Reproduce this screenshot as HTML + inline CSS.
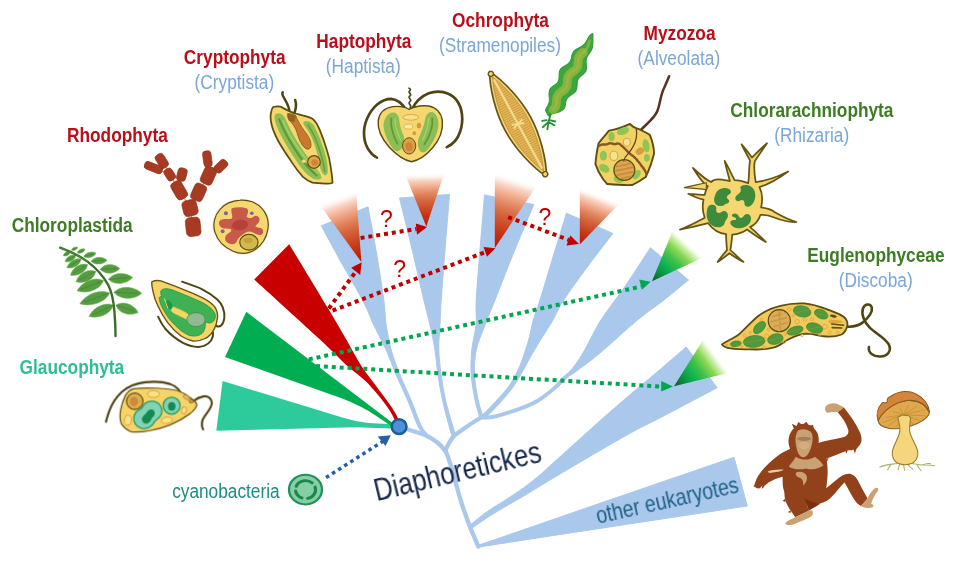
<!DOCTYPE html>
<html lang="en">
<head>
<meta charset="utf-8">
<title>Diaphoretickes – plastid origins</title>
<style>
html,body{margin:0;padding:0;background:#fff;}
body{width:960px;height:574px;overflow:hidden;}
svg{display:block;}
text{font-family:"Liberation Sans",sans-serif;}
.b{font-weight:bold;}
</style>
</head>
<body>
<svg width="960" height="574" viewBox="0 0 960 574">
<defs>
  <linearGradient id="gr1" gradientUnits="userSpaceOnUse" x1="337" y1="196.8" x2="361.4" y2="262">
    <stop offset="0" stop-color="#ffffff" stop-opacity="0"/><stop offset="0.13" stop-color="#fad7c8" stop-opacity="1"/><stop offset="0.26" stop-color="#f0aa8c"/><stop offset="0.4" stop-color="#e1825a"/><stop offset="0.53" stop-color="#d4643c"/><stop offset="0.66" stop-color="#cd4b28"/><stop offset="0.79" stop-color="#c83214"/><stop offset="1" stop-color="#c01400"/>
  </linearGradient>
  <linearGradient id="gr2" gradientUnits="userSpaceOnUse" x1="424.8" y1="173.2" x2="426.3" y2="226.5">
    <stop offset="0" stop-color="#ffffff" stop-opacity="0"/><stop offset="0.13" stop-color="#fad7c8" stop-opacity="1"/><stop offset="0.26" stop-color="#f0aa8c"/><stop offset="0.4" stop-color="#e1825a"/><stop offset="0.53" stop-color="#d4643c"/><stop offset="0.66" stop-color="#cd4b28"/><stop offset="0.79" stop-color="#c83214"/><stop offset="1" stop-color="#c01400"/>
  </linearGradient>
  <linearGradient id="gr3" gradientUnits="userSpaceOnUse" x1="516" y1="177.8" x2="494.8" y2="248">
    <stop offset="0" stop-color="#ffffff" stop-opacity="0"/><stop offset="0.13" stop-color="#fad7c8" stop-opacity="1"/><stop offset="0.26" stop-color="#f0aa8c"/><stop offset="0.4" stop-color="#e1825a"/><stop offset="0.53" stop-color="#d4643c"/><stop offset="0.66" stop-color="#cd4b28"/><stop offset="0.79" stop-color="#c83214"/><stop offset="1" stop-color="#c01400"/>
  </linearGradient>
  <linearGradient id="gr4" gradientUnits="userSpaceOnUse" x1="599.4" y1="194.5" x2="579.8" y2="244.5">
    <stop offset="0" stop-color="#ffffff" stop-opacity="0"/><stop offset="0.13" stop-color="#fad7c8" stop-opacity="1"/><stop offset="0.26" stop-color="#f0aa8c"/><stop offset="0.4" stop-color="#e1825a"/><stop offset="0.53" stop-color="#d4643c"/><stop offset="0.66" stop-color="#cd4b28"/><stop offset="0.79" stop-color="#c83214"/><stop offset="1" stop-color="#c01400"/>
  </linearGradient>
  <linearGradient id="gg5" gradientUnits="userSpaceOnUse" x1="687" y1="243.5" x2="652" y2="281.3">
    <stop offset="0" stop-color="#c8efa0" stop-opacity="0"/><stop offset="0.1" stop-color="#b4e888" stop-opacity="0.7"/><stop offset="0.22" stop-color="#8fd855" stop-opacity="1"/><stop offset="0.42" stop-color="#3cc04a"/><stop offset="0.62" stop-color="#0cb050"/><stop offset="0.82" stop-color="#0a883e"/><stop offset="1" stop-color="#0b5626"/>
  </linearGradient>
  <linearGradient id="gg6" gradientUnits="userSpaceOnUse" x1="716" y1="356" x2="674" y2="386.3">
    <stop offset="0" stop-color="#c8efa0" stop-opacity="0"/><stop offset="0.1" stop-color="#b4e888" stop-opacity="0.7"/><stop offset="0.22" stop-color="#8fd855" stop-opacity="1"/><stop offset="0.42" stop-color="#3cc04a"/><stop offset="0.62" stop-color="#0cb050"/><stop offset="0.82" stop-color="#0a883e"/><stop offset="1" stop-color="#0b5626"/>
  </linearGradient>
</defs>
<!-- ===== tree ===== -->
<g id="tree" fill="#a9c8eb" stroke="#a9c8eb" stroke-width="1" stroke-linejoin="miter">
  <path d="M321.3,225.8 C324.6,231.8 334.1,249.6 341.0,262.0 C347.9,274.4 357.0,289.5 362.5,300.0 C368.0,310.5 369.8,316.7 373.8,325.0 C377.7,333.3 382.5,341.7 386.2,350.0 C390.0,358.3 392.7,366.7 396.2,375.0 C399.8,383.3 404.0,391.7 407.5,400.0 C411.0,408.3 414.9,419.4 417.5,425.0 C420.1,430.6 422.1,432.1 423.0,433.5 L427.0,433.5 C426.0,432.1 423.7,430.6 421.0,425.0 C418.3,419.4 414.5,408.3 411.0,400.0 C407.5,391.7 403.3,383.3 400.0,375.0 C396.7,366.7 393.5,358.3 391.2,350.0 C389.0,341.7 387.5,333.3 386.2,325.0 C385.0,316.7 385.4,312.0 383.8,300.0 C382.1,288.0 379.1,268.5 376.5,253.0 C373.9,237.5 369.4,214.5 368.0,206.8Z"/>
  <path d="M399.5,198.0 C401.6,206.5 408.0,232.0 412.0,249.0 C416.0,266.0 420.8,287.3 423.8,300.0 C426.8,312.7 428.1,316.7 430.0,325.0 C431.9,333.3 433.7,341.7 435.0,350.0 C436.3,358.3 436.8,366.7 438.0,375.0 C439.2,383.3 440.7,391.7 442.5,400.0 C444.3,408.3 447.2,419.0 448.8,425.0 C450.3,431.0 451.5,434.2 452.0,436.0 L455.5,435.0 C455.0,433.3 454.2,430.8 452.5,425.0 C450.8,419.2 447.4,408.3 445.5,400.0 C443.6,391.7 442.4,383.3 441.2,375.0 C440.1,366.7 439.0,358.3 438.8,350.0 C438.5,341.7 439.6,333.3 440.0,325.0 C440.4,316.7 440.4,312.5 441.2,300.0 C442.1,287.5 443.6,267.6 445.0,250.0 C446.4,232.4 448.8,203.8 449.5,194.5Z"/>
  <path d="M484.5,195.0 C483.8,204.2 481.4,232.5 480.0,250.0 C478.6,267.5 476.9,287.5 476.2,300.0 C475.6,312.5 476.8,316.7 476.0,325.0 C475.2,333.3 472.5,341.7 471.8,350.0 C471.0,358.3 470.7,366.7 471.2,375.0 C471.8,383.3 473.7,393.3 475.0,400.0 C476.3,406.7 478.2,411.8 479.0,415.0 C479.8,418.2 479.8,418.3 480.0,419.0 L483.0,417.0 C482.9,416.7 483.3,417.8 482.5,415.0 C481.7,412.2 479.6,406.7 478.2,400.0 C476.9,393.3 474.8,383.3 474.5,375.0 C474.2,366.7 474.5,358.3 476.2,350.0 C478.0,341.7 481.9,333.3 485.0,325.0 C488.1,316.7 490.2,312.2 495.0,300.0 C499.8,287.8 507.5,267.9 514.0,252.0 C520.5,236.1 530.5,212.4 533.8,204.5Z"/>
  <path d="M566.4,213.3 C564.2,220.6 557.4,242.6 553.0,257.0 C548.6,271.4 543.3,289.5 540.0,300.0 C536.7,310.5 535.0,313.9 533.3,320.0 C531.5,326.1 531.0,331.1 529.5,336.7 C528.0,342.2 526.4,347.8 524.5,353.3 C522.6,358.9 520.7,364.4 518.0,370.0 C515.3,375.6 512.2,381.4 508.5,386.7 C504.8,391.9 499.4,397.2 495.5,401.5 C491.6,405.8 487.6,410.1 485.0,412.5 C482.4,414.9 480.8,415.6 480.0,416.2 L482.0,419.0 C483.0,418.4 485.0,418.0 488.0,415.3 C491.0,412.6 495.8,407.6 500.0,402.8 C504.2,398.0 509.4,392.2 513.3,386.7 C517.2,381.2 520.1,375.6 523.3,370.0 C526.5,364.4 529.3,358.9 532.5,353.3 C535.7,347.8 539.1,342.2 542.5,336.7 C545.9,331.1 549.5,326.1 553.0,320.0 C556.5,313.9 557.9,309.0 563.8,300.0 C569.6,291.0 579.8,277.1 588.0,266.0 C596.2,254.9 608.7,238.8 612.8,233.4Z"/>
  <path d="M650.4,247.7 C646.3,253.9 634.2,272.9 626.0,285.0 C617.8,297.1 608.2,308.7 601.0,320.0 C593.8,331.3 588.0,344.7 583.0,353.0 C578.0,361.3 574.5,365.8 571.0,370.0 C567.5,374.2 565.5,374.7 562.0,378.0 C558.5,381.3 555.3,385.8 550.0,390.0 C544.7,394.2 538.8,398.9 530.0,403.0 C521.2,407.1 505.2,412.3 497.0,414.5 C488.8,416.7 483.7,415.8 481.0,416.0 L481.0,419.0 C483.7,418.8 488.5,419.8 497.0,417.5 C505.5,415.2 522.5,410.0 532.0,405.5 C541.5,401.0 548.2,395.1 554.0,390.5 C559.8,385.9 563.0,381.4 567.0,378.0 C571.0,374.6 572.5,374.2 578.0,370.0 C583.5,365.8 590.1,361.3 600.0,353.0 C609.9,344.7 626.8,328.8 637.5,320.0 C648.2,311.2 655.5,306.7 664.0,300.0 C672.5,293.3 684.4,283.3 688.5,280.0Z"/>
  <path d="M686.2,347.0 C681.0,351.5 665.5,364.9 655.0,373.8 C644.5,382.7 632.5,392.6 623.3,400.4 C614.1,408.2 606.7,414.9 600.0,420.8 C593.3,426.7 588.8,430.8 583.3,435.8 C577.8,440.8 572.2,445.8 566.7,450.8 C561.2,455.8 554.5,461.8 550.0,465.8 C545.5,469.8 544.5,471.3 540.0,475.0 C535.5,478.7 528.8,484.0 523.3,488.0 C517.8,492.0 512.8,495.2 506.7,499.2 C500.6,503.2 492.3,508.0 486.7,511.9 C481.1,515.8 476.0,520.4 473.3,522.5 C470.6,524.6 471.0,524.4 470.5,524.8 L472.2,528.3 C472.7,527.9 472.0,528.1 475.0,526.0 C478.0,523.9 484.7,519.2 490.0,515.8 C495.3,512.4 500.9,509.2 506.7,505.8 C512.5,502.4 517.8,499.5 525.0,495.2 C532.2,490.9 543.0,484.2 550.0,480.0 C557.0,475.8 561.2,473.3 566.7,470.0 C572.2,466.7 577.8,463.6 583.3,460.3 C588.8,457.1 591.7,455.3 600.0,450.5 C608.3,445.7 623.0,437.1 633.3,431.5 C643.6,425.9 648.0,424.1 662.0,416.8 C676.0,409.5 708.0,392.6 717.2,387.7Z"/>
  <path d="M734.0,457.3 C711.7,465.0 640.7,489.3 600.0,503.3 C559.3,517.3 510.5,534.3 490.0,541.3 C469.5,548.3 479.2,544.8 477.0,545.5 L478.0,547.5 C480.0,547.1 469.7,548.5 490.0,545.3 C510.3,542.1 557.1,534.9 600.0,528.4 C642.9,521.9 722.8,509.7 747.3,506.0Z"/>
</g>
<g id="stems" fill="none" stroke="#a9c8eb" stroke-width="4.3" stroke-linecap="round" stroke-linejoin="round">
  <path d="M399,427 C410,430 418,432.5 425,435 C434,439 442,446 446,452 C450,460 453,474 457.7,490 C462,506 468,524 478.3,546.5"/>
  <path d="M481,417.5 C470,424 462,430 455,435 C451,439 448,444 445.7,450"/>
</g>

<!-- ===== primary plastid wedges ===== -->
<path d="M222.6,380.9 L342.3,417.6 Q356,421.9 368.4,423.1 L399,424.4 L399,428.8 L354.5,427.2 L216.3,430.8Z" fill="#2dcb9b"/>
<path d="M246.3,311.8 L391,421.7 L400,428 L397,430.6 L389.3,424.8 L377.1,416.4 Q361,405.8 342.3,398.6 L225,357Z" fill="#00ad50"/>
<path d="M289.2,244.2 C295.6,254.8 317.9,291.5 327.5,307.5 C337.1,323.5 341.0,330.2 346.6,340.0 C352.2,349.8 356.8,358.8 361.4,366.1 C366.0,373.4 369.0,376.3 374.3,383.6 C379.6,390.9 388.9,402.9 393.3,409.7 C397.7,416.5 399.4,422.0 400.6,424.5 L397.4,427.0 C396.0,424.1 394.1,416.9 389.2,409.7 C384.3,402.5 374.9,390.9 368.0,383.6 C361.1,376.3 355.4,373.4 347.5,366.1 C339.6,358.8 336.0,354.4 320.5,340.0 C305.0,325.6 265.3,289.6 254.2,279.5Z" fill="#c80000"/>

<!-- ===== secondary plastid gradient tips ===== -->
<polygon points="361.4,262 318,202.5 356,191" fill="url(#gr1)"/>
<polygon points="426.3,226.5 405,174 444.5,172.5" fill="url(#gr2)"/>
<polygon points="494.8,248 494.8,171 537.5,184.5" fill="url(#gr3)"/>
<polygon points="579.8,244.5 579.8,185 619,204" fill="url(#gr4)"/>
<polygon points="652,281.3 673,230 703,257.5" fill="url(#gg5)"/>
<polygon points="674,386.3 703,340 728,373" fill="url(#gg6)"/>

<!-- ===== dotted arrows ===== -->
<g fill="none" stroke="#c00000" stroke-width="4" stroke-dasharray="4 3.9">
  <path d="M328.8,308.5 L355.5,272"/>
  <path d="M360.6,238 L416.5,229"/>
  <path d="M332.6,310.6 L485,252.2"/>
  <path d="M508.2,217.1 L569,240"/>
</g>
<g fill="#c00000">
  <polygon points="361.6,262.6 351.2,267.8 360.2,275"/>
  <polygon points="427,227 415.8,223.4 417,234.8"/>
  <polygon points="495.3,248.2 483.6,247 487,256.8"/>
  <polygon points="579,244 570.4,235.6 566.4,245.6"/>
</g>
<g fill="none" stroke="#00a651" stroke-width="4" stroke-dasharray="4 3.9">
  <path d="M308.8,359.4 L641,286.6"/>
  <path d="M316,366 L662,386.6"/>
</g>
<g fill="#00a651">
  <polygon points="650.6,281.8 639.2,279.4 642,289.8"/>
  <polygon points="673,386.4 661.2,381 661.2,391.6"/>
</g>
<path d="M326,477.6 L382.5,441.6" fill="none" stroke="#285ea4" stroke-width="3.5" stroke-dasharray="3.6 3.6"/>
<polygon points="390.8,435.2 377.6,436.4 385.6,446" fill="#285ea4"/>
<circle cx="399.1" cy="426.6" r="7.4" fill="#4d90d6" stroke="#1d5c96" stroke-width="2.5"/>

<!-- cyanobacterium icon -->
<g transform="translate(305.5,489.6) scale(1,0.9)">
  <circle cx="0" cy="0" r="16.5" fill="#86cfa4" stroke="#22905a" stroke-width="2.3"/>
  <g fill="none" stroke="#1b874d" stroke-width="3.2" stroke-linecap="round">
    <path d="M-9.3,-3.6 A10,10 0 0 1 6.6,-7.5"/>
    <path d="M9.6,-2.8 A10,10 0 0 1 2.2,9.8"/>
    <path d="M-3.6,9.3 A10,10 0 0 1 -9.9,1.6"/>
  </g>
</g>

<!-- ===== labels ===== -->
<g opacity="0.999">
<g font-size="21" text-anchor="middle">
  <g class="b" fill="#b80f1a">
    <text transform="translate(234.7,63.8) scale(0.823,1)">Cryptophyta</text>
    <text transform="translate(363.8,47.5) scale(0.823,1)">Haptophyta</text>
    <text transform="translate(500.5,27.2) scale(0.823,1)">Ochrophyta</text>
    <text transform="translate(679.5,39.7) scale(0.823,1)">Myzozoa</text>
    <text transform="translate(117.4,142.2) scale(0.823,1)">Rhodophyta</text>
  </g>
  <g class="b" fill="#3c7d23">
    <text transform="translate(811.9,117.2) scale(0.823,1)">Chlorarachniophyta</text>
    <text transform="translate(875.9,262.2) scale(0.823,1)">Euglenophyceae</text>
    <text transform="translate(72.2,231.9) scale(0.823,1)">Chloroplastida</text>
  </g>
  <text class="b" fill="#2fbd95" transform="translate(71.9,374.4) scale(0.823,1)">Glaucophyta</text>
  <g fill="#7aa6d8">
    <text transform="translate(234.4,88.8) scale(0.823,1)">(Cryptista)</text>
    <text transform="translate(363.3,72.5) scale(0.823,1)">(Haptista)</text>
    <text transform="translate(500,51.6) scale(0.823,1)">(Stramenopiles)</text>
    <text transform="translate(678.9,64.7) scale(0.823,1)">(Alveolata)</text>
    <text transform="translate(811.7,141.6) scale(0.823,1)">(Rhizaria)</text>
    <text transform="translate(875.7,286.6) scale(0.823,1)">(Discoba)</text>
  </g>
  <text fill="#1e8c82" transform="translate(225.9,497.8) scale(0.823,1)">cyanobacteria</text>
</g>
<g font-size="23" fill="#c00000" text-anchor="middle">
  <text x="386.5" y="227">?</text>
  <text x="399.6" y="277.4">?</text>
  <text x="545" y="225.2">?</text>
</g>
<text font-size="31.5" fill="#14284b" transform="translate(376.8,501.2) rotate(-13.4) scale(0.82,1)">Diaphoretickes</text>
<text font-size="23.8" fill="#1f6088" transform="translate(598,523.9) rotate(-12.6) scale(0.82,1)">other eukaryotes</text>
</g>

<!-- ===== Rhodophyta: filament + cell ===== -->
<g transform="translate(130,140) scale(0.2092)">
  <g stroke="#d9903c" stroke-width="5" fill="none">
    <path d="M302,415 L287,325 L235,240 L190,165 L152,100 M190,165 L112,132 M235,240 L248,165 M287,325 L328,250 L375,170 L370,90 M375,170 L435,125"/>
  </g>
  <g fill="#a63a22" stroke="#8e2e16" stroke-width="3">
    <rect x="-35" y="-45" width="70" height="90" rx="20" transform="translate(302,415) rotate(-6)"/>
    <rect x="-35" y="-38" width="70" height="76" rx="20" transform="translate(287,325) rotate(-14)"/>
    <rect x="-28" y="-45" width="56" height="90" rx="18" transform="translate(235,240) rotate(-30)"/>
    <rect x="-21" y="-30" width="42" height="60" rx="15" transform="translate(190,165) rotate(-32)"/>
    <rect x="-22" y="-36" width="44" height="72" rx="16" transform="translate(152,100) rotate(-32)"/>
    <rect x="-45" y="-19" width="90" height="38" rx="16" transform="translate(112,132) rotate(22)"/>
    <rect x="-22" y="-31" width="44" height="62" rx="15" transform="translate(248,165) rotate(15)"/>
    <rect x="-30" y="-41" width="60" height="82" rx="19" transform="translate(328,250) rotate(24)"/>
    <rect x="-30" y="-43" width="60" height="86" rx="19" transform="translate(375,170) rotate(24)"/>
    <rect x="-20" y="-38" width="40" height="76" rx="15" transform="translate(370,90) rotate(-8)"/>
    <rect x="-21" y="-34" width="42" height="68" rx="15" transform="translate(435,125) rotate(46)"/>
  </g>
</g>
<g transform="translate(205,190) scale(0.1307)">
  <path d="M270,78 C330,72 395,95 435,140 C475,185 492,245 480,305 C470,365 435,420 385,455 C335,488 270,492 215,468 C150,440 95,385 75,320 C58,262 72,195 115,148 C152,105 210,82 270,78Z" fill="#fcebd9" stroke="#fcebd9" stroke-width="22"/>
  <path d="M270,78 C330,72 395,95 435,140 C475,185 492,245 480,305 C470,365 435,420 385,455 C335,488 270,492 215,468 C150,440 95,385 75,320 C58,262 72,195 115,148 C152,105 210,82 270,78Z" fill="#f5d870" stroke="#5c4d12" stroke-width="9"/>
  <path d="M205,140 C240,128 290,130 322,142 C338,160 325,185 318,205 C335,222 360,215 375,200 C395,188 420,205 418,232 C412,255 392,262 385,280 C400,292 425,285 440,300 C452,320 440,345 418,345 C390,342 370,322 345,318 C322,318 300,330 285,345 C262,358 248,380 240,400 C225,420 190,418 168,400 C148,382 150,352 170,338 C190,325 205,318 200,300 C178,292 150,300 128,288 C102,272 100,240 122,228 C150,215 185,228 205,218 C218,200 192,165 205,140Z" fill="#c85a4b"/>
  <ellipse cx="268" cy="268" rx="62" ry="40" fill="#b8403a" transform="rotate(-8 268 268)"/>
  <circle cx="160" cy="178" r="15" fill="#7e60a8"/><circle cx="358" cy="178" r="14" fill="#7e60a8"/><circle cx="135" cy="315" r="15" fill="#7e60a8"/>
  <ellipse cx="336" cy="400" rx="70" ry="60" fill="#d2ba4a" stroke="#5c4d12" stroke-width="9"/>
  <ellipse cx="330" cy="385" rx="35" ry="20" fill="#c8a03c"/>
</g>

<!-- ===== Cryptophyta cell ===== -->
<g transform="translate(255,85) scale(0.1915)">
  <g fill="none" stroke="#4f4416" stroke-width="13" stroke-linecap="round">
    <path d="M182,160 C185,120 165,90 150,65 C142,52 140,45 145,38"/>
    <path d="M200,160 C215,130 218,105 210,78"/>
  </g>
  <path d="M95,115 C120,108 140,112 150,122 C175,135 195,145 215,150 C245,158 275,165 300,176 C318,190 328,210 337,232 C352,268 365,305 376,342 C386,372 392,402 396,432 C400,460 404,486 405,510 C395,516 382,516 370,515 C345,514 322,513 300,510 C280,503 264,492 250,480 C228,455 208,428 190,400 C165,364 141,328 120,290 C105,262 92,232 85,200 C80,175 80,155 85,138 C87,128 90,120 95,115Z" fill="#f6d66e" stroke="#5c4d12" stroke-width="9" stroke-linejoin="round"/>
  <!-- left chloroplast -->
  <path d="M110,150 C125,142 145,150 155,170 C175,215 200,265 230,310 C262,360 300,410 335,455 C345,470 350,482 345,490 C335,497 315,494 298,485 C270,470 245,440 222,405 C190,358 160,310 135,262 C118,228 105,195 102,172 C101,162 104,154 110,150Z" fill="#8bbf55"/>
  <path d="M125,175 C150,240 190,310 235,375 C265,418 295,450 325,475" fill="none" stroke="#62963a" stroke-width="11"/>
  <path d="M145,185 C170,245 210,310 250,365 C275,400 300,430 330,460" fill="none" stroke="#a6d568" stroke-width="6"/>
  <!-- right chloroplast -->
  <path d="M258,190 C275,183 298,195 310,215 C330,255 348,300 362,345 C374,385 382,425 380,455 C378,470 368,475 358,468 C345,455 340,430 335,405 C328,362 315,320 298,280 C285,250 268,225 255,208 C250,200 252,193 258,190Z" fill="#8bbf55"/>
  <path d="M275,205 C305,250 330,310 345,365 C355,400 362,430 365,455" fill="none" stroke="#6a9f3c" stroke-width="8"/>
  <!-- gullet -->
  <path d="M172,150 C185,150 200,152 212,160 C225,190 240,215 258,240 C278,265 295,290 292,318 C290,335 275,340 262,330 C240,312 228,280 220,250 C212,222 195,200 180,185 C170,172 168,160 172,150Z" fill="#c9792f" stroke="#7a5a18" stroke-width="4"/>
  <path d="M168,145 L215,160 L205,195 L175,185Z" fill="#8a5a20" opacity="0.8"/>
  <!-- nucleus -->
  <circle cx="308" cy="402" r="33" fill="#e3a545" stroke="#5c4d12" stroke-width="6"/>
  <circle cx="312" cy="405" r="17" fill="#cf8535"/>
  <ellipse cx="255" cy="398" rx="12" ry="9" fill="#f3e08a" stroke="#c9a94a" stroke-width="3"/>
</g>

<!-- ===== Haptophyta cell ===== -->
<g transform="translate(355,80) scale(0.15686)">
  <g fill="none" stroke="#4f4416" stroke-linecap="round">
    <path d="M328,190 C300,150 270,122 230,120 C170,120 110,170 75,250 C45,325 55,400 90,450 C105,472 122,487 140,495" stroke-width="17"/>
    <path d="M362,190 C385,140 420,105 470,85 C530,62 600,75 645,125 C685,175 695,255 670,330 C655,375 625,410 585,428" stroke-width="17"/>
    <path d="M352,175 C368,162 332,152 350,138 C368,125 332,115 350,102 C368,90 332,80 350,68 C358,62 350,56 344,52" stroke-width="11"/>
  </g>
  <path d="M345,187 C320,172 280,165 240,170 C190,178 155,210 148,260 C142,320 175,380 220,430 C262,475 310,510 360,521 C410,512 455,478 495,432 C535,385 562,320 557,262 C552,212 520,175 470,166 C425,160 375,170 345,187Z" fill="#f6d66e" stroke="#5c4d12" stroke-width="9"/>
  <!-- chloroplasts -->
  <path d="M222,212 C245,200 272,212 280,240 C285,280 292,320 310,355 C322,385 310,420 290,445 C275,460 255,455 242,438 C215,400 190,355 183,305 C178,265 195,228 222,212Z" fill="#8bbf55"/>
  <path d="M232,240 C225,290 240,350 272,410" fill="none" stroke="#62963a" stroke-width="11"/>
  <path d="M255,245 C255,290 270,340 292,385" fill="none" stroke="#a6d568" stroke-width="7"/>
  <path d="M498,205 C475,198 455,215 448,245 C440,290 425,330 408,365 C395,395 400,430 415,452 C428,468 448,462 462,445 C492,408 520,360 530,305 C538,260 525,222 498,205Z" fill="#8bbf55"/>
  <path d="M492,240 C500,290 478,355 440,415" fill="none" stroke="#62963a" stroke-width="11"/>
  <path d="M470,240 C470,290 452,340 428,390" fill="none" stroke="#a6d568" stroke-width="7"/>
  <!-- organelles -->
  <ellipse cx="356" cy="238" rx="50" ry="18" fill="#f8e08a" stroke="#d49a3a" stroke-width="5"/>
  <ellipse cx="340" cy="297" rx="28" ry="16" fill="#fbeaa5" stroke="#d49a3a" stroke-width="4"/>
  <ellipse cx="408" cy="290" rx="14" ry="18" fill="#d59a40"/>
  <ellipse cx="378" cy="340" rx="12" ry="13" fill="#d59a40"/>
  <ellipse cx="345" cy="420" rx="42" ry="52" fill="#dba045" stroke="#5c4d12" stroke-width="6"/>
  <ellipse cx="345" cy="425" rx="22" ry="28" fill="#cf8535"/>
</g>

<!-- ===== Ochrophyta: diatom + kelp ===== -->
<g transform="translate(489.6,71.6) rotate(61.54)">
<path d="M0.0,0 C14.3,-7.9 39.3,-14.4 59.6,-14.4 C79.9,-14.4 104.9,-7.9 119.2,0 C104.9,7.9 79.9,14.4 59.6,14.4 C39.3,14.4 14.3,7.9 0.0,0Z" fill="#f0d37a" stroke="#6b5212" stroke-width="1.7" stroke-linejoin="round"/>
<circle cx="2.6" cy="0" r="2.6" fill="#f0d37a" stroke="#6b5212" stroke-width="1.4"/>
<circle cx="116.6" cy="0" r="2.6" fill="#f0d37a" stroke="#6b5212" stroke-width="1.4"/>
<path d="M6.0,0 C20.3,-6.3 39.3,-11.4 59.6,-11.4 C79.9,-11.4 98.9,-6.3 113.2,0 C98.9,6.3 79.9,11.4 59.6,11.4 C39.3,11.4 20.3,6.3 6.0,0Z" fill="#e4b659" stroke="#c08e34" stroke-width="0.8"/>
<path d="M10.7,-1.9 L10.7,1.9 M13.0,-2.8 L13.0,2.8 M15.3,-3.7 L15.3,3.7 M17.7,-4.5 L17.7,4.5 M20.0,-5.2 L20.0,5.2 M22.3,-5.9 L22.3,5.9 M24.6,-6.5 L24.6,6.5 M27.0,-7.1 L27.0,7.1 M29.3,-7.6 L29.3,7.6 M31.6,-8.1 L31.6,8.1 M34.0,-8.5 L34.0,8.5 M36.3,-8.9 L36.3,8.9 M38.6,-9.3 L38.6,9.3 M41.0,-9.6 L41.0,9.6 M43.3,-9.9 L43.3,9.9 M45.6,-10.1 L45.6,10.1 M47.9,-10.3 L47.9,10.3 M50.3,-10.5 L50.3,10.5 M52.6,-10.6 L52.6,10.6 M54.9,-10.7 L54.9,10.7 M57.3,-10.8 L57.3,10.8 M59.6,-10.8 L59.6,10.8 M61.9,-10.8 L61.9,10.8 M64.3,-10.7 L64.3,10.7 M66.6,-10.6 L66.6,10.6 M68.9,-10.5 L68.9,10.5 M71.3,-10.3 L71.3,10.3 M73.6,-10.1 L73.6,10.1 M75.9,-9.9 L75.9,9.9 M78.2,-9.6 L78.2,9.6 M80.6,-9.3 L80.6,9.3 M82.9,-8.9 L82.9,8.9 M85.2,-8.5 L85.2,8.5 M87.6,-8.1 L87.6,8.1 M89.9,-7.6 L89.9,7.6 M92.2,-7.1 L92.2,7.1 M94.6,-6.5 L94.6,6.5 M96.9,-5.9 L96.9,5.9 M99.2,-5.2 L99.2,5.2 M101.6,-4.5 L101.6,4.5 M103.9,-3.7 L103.9,3.7 M106.2,-2.8 L106.2,2.8 M108.5,-1.9 L108.5,1.9 " stroke="#c99838" stroke-width="0.8" fill="none"/>
<path d="M9,0 L110.2,0" stroke="#f3dc8e" stroke-width="2.2" fill="none"/>
<path d="M57.6,-6 L61.6,6 M61.6,-6 L57.6,6" stroke="#f3dc8e" stroke-width="2" fill="none"/>
</g>

<g transform="translate(480,30) scale(0.2614)">
  <path d="M429.8,13.7 L424.2,17.1 L420.0,21.4 L416.5,26.0 L413.5,30.9 L410.8,36.0 L408.2,41.1 L405.3,46.1 L402.0,50.9 L398.1,55.3 L393.5,59.3 L388.2,62.9 L382.4,66.3 L376.4,69.5 L370.5,72.8 L365.0,76.4 L360.3,80.4 L356.6,84.9 L353.8,89.9 L352.0,95.4 L350.7,101.3 L349.7,107.3 L348.3,113.1 L346.0,118.4 L342.7,123.1 L338.9,127.6 L334.0,131.4 L328.4,134.9 L322.6,138.3 L317.0,141.7 L312.0,145.6 L308.0,149.9 L305.2,154.9 L303.6,160.6 L302.8,166.7 L302.7,173.2 L302.6,179.7 L302.2,186.1 L301.0,192.0 L298.8,197.3 L295.4,202.0 L291.1,206.2 L286.1,210.0 L280.8,213.6 L275.7,217.4 L271.3,221.5 L267.9,226.2 L265.6,231.5 L264.5,237.4 L264.0,243.7 L264.3,250.4 L265.0,257.4 L265.5,264.2 L265.4,270.7 L264.6,276.8 L262.9,282.4 L260.4,287.6 L257.5,292.5 L254.5,297.5 L252.0,302.7 L250.4,308.3 L262.2,328.5 L274.9,321.8 L282.4,319.4 L290.2,317.1 L298.0,314.8 L305.3,312.3 L311.8,309.3 L317.1,305.6 L321.1,301.3 L323.9,296.3 L325.7,290.7 L326.7,284.7 L327.5,278.6 L328.4,272.6 L330.3,267.0 L333.1,262.0 L337.0,257.6 L341.6,253.6 L346.9,249.9 L352.4,246.4 L357.6,242.7 L362.2,238.7 L365.9,234.2 L368.5,229.1 L370.2,223.4 L371.0,217.3 L371.4,211.0 L371.7,204.6 L372.4,198.4 L373.7,192.6 L376.0,187.3 L379.3,182.6 L383.4,178.3 L388.1,174.3 L393.0,170.4 L397.7,166.4 L401.8,162.1 L405.0,157.3 L406.5,151.6 L407.1,145.4 L407.0,138.8 L406.4,131.9 L405.9,125.1 L405.9,118.5 L406.6,112.3 L408.1,106.6 L410.4,101.3 L413.3,96.4 L416.7,91.7 L420.1,87.0 L423.3,82.2 L426.2,77.2 L428.4,71.9 L430.1,66.3 L431.1,60.3 L431.6,54.0 L431.9,47.6 L431.9,41.1 L432.0,34.5 L432.1,28.1 L432.3,21.6 L432.0,14.9Z" fill="#3aa83c" stroke="#2d9a3a" stroke-width="4" stroke-linejoin="round"/>
  <path d="M394.5,86.0 L389.8,90.0 L385.6,94.2 L381.9,98.8 L379.1,103.8 L377.2,109.3 L376.2,115.3 L375.7,121.6 L375.3,127.9 L374.5,134.0 L373.0,139.7 L370.5,145.0 L367.1,149.6 L362.8,153.8 L357.9,157.7 L352.7,161.4 L347.8,165.2 L343.4,169.4 L339.8,174.0 L337.2,179.1 L335.6,184.7 L334.7,190.8 L334.2,197.1 L333.8,203.4 L333.0,209.5 L331.5,215.2 L329.0,220.5 L325.6,225.1 L321.3,229.3 L316.4,233.2 L311.2,236.9 L306.3,240.7 L301.9,244.9 L298.3,249.5 L295.7,254.6 L294.1,260.2 L293.2,266.3 L292.7,272.6 L292.3,278.9 L291.5,285.0 L290.0,290.7 L287.5,296.0 L284.1,300.6 L279.8,304.8" fill="none" stroke="#8fb63e" stroke-width="34" stroke-linecap="round" stroke-linejoin="round" opacity="0.85"/>
  <path d="M419.0,40.5 L417.3,46.2 L415.8,51.9 L414.3,57.6 L412.4,63.1 L410.0,68.4 L407.0,73.3 L403.3,77.8 L399.0,82.0 L394.5,86.0 L389.8,90.0 L385.6,94.2 L381.9,98.8 L379.1,103.8 L377.2,109.3 L376.2,115.3 L375.7,121.6 L375.3,127.9 L374.5,134.0 L373.0,139.7 L370.5,145.0 L367.1,149.6 L362.8,153.8 L357.9,157.7 L352.7,161.4 L347.8,165.2 L343.4,169.4 L339.8,174.0 L337.2,179.1 L335.6,184.7 L334.7,190.8 L334.2,197.1 L333.8,203.4 L333.0,209.5 L331.5,215.2 L329.0,220.5 L325.6,225.1 L321.3,229.3 L316.4,233.2 L311.2,236.9 L306.3,240.7 L301.9,244.9 L298.3,249.5 L295.7,254.6 L294.1,260.2 L293.2,266.3 L292.7,272.6 L292.3,278.9 L291.5,285.0 L290.0,290.7 L287.5,296.0 L284.1,300.6 L279.8,304.8" fill="none" stroke="#b4b444" stroke-width="11" stroke-linecap="round" stroke-linejoin="round" opacity="0.55"/>
  <g fill="none" stroke="#2a8f3a" stroke-width="7" stroke-linecap="round">
    <path d="M270,322 L262,352"/>
    <path d="M262,352 L240,372 M262,352 L258,380 M262,352 L285,365 M255,345 L238,348 M266,345 L288,350"/>
  </g>
</g>

<!-- ===== Myzozoa: dinoflagellate ===== -->
<g transform="translate(585,70) scale(0.2092)">
  <path d="M212,392 C222,350 245,312 264,290 C288,262 332,232 346,196 C360,160 360,122 378,86 C388,64 396,46 402,30" fill="none" stroke="#5a3222" stroke-width="12" stroke-linecap="round"/>
  <path d="M115,290 C150,285 185,272 215,258 C225,268 232,275 245,278 C268,285 290,298 310,310 C322,340 330,370 330,400 C322,432 312,462 300,490 C290,498 296,505 290,512 C268,528 248,540 225,550 C185,552 140,548 105,545 C100,535 92,530 85,520 C70,498 58,475 50,450 C52,415 58,382 65,350 C80,330 98,310 115,290Z" fill="#f2d265" stroke="#5c4d12" stroke-width="9" stroke-linejoin="round"/>
  <!-- chloroplasts -->
  <g fill="#8fc552">
    <ellipse cx="182" cy="292" rx="30" ry="17" transform="rotate(-20 182 292)"/>
    <ellipse cx="127" cy="318" rx="15" ry="22"/>
    <ellipse cx="292" cy="362" rx="16" ry="32" transform="rotate(-10 292 362)"/>
    <ellipse cx="88" cy="410" rx="17" ry="24"/>
    <ellipse cx="92" cy="470" rx="27" ry="18" transform="rotate(30 92 470)"/>
    <ellipse cx="162" cy="522" rx="25" ry="17" transform="rotate(15 162 522)"/>
    <ellipse cx="247" cy="500" rx="16" ry="25" transform="rotate(35 247 500)"/>
    <ellipse cx="296" cy="420" rx="14" ry="18"/>
  </g>
  <ellipse cx="200" cy="345" rx="17" ry="19" fill="#f7e28e" stroke="#d9a53f" stroke-width="5"/>
  <ellipse cx="138" cy="410" rx="19" ry="23" fill="#f7e28e" stroke="#d9a53f" stroke-width="5"/>
  <ellipse cx="262" cy="388" rx="21" ry="16" fill="#d79a45" transform="rotate(-30 262 388)"/>
  <!-- nucleus -->
  <circle cx="188" cy="478" r="50" fill="#dba551" stroke="#5c4d12" stroke-width="6"/>
  <path d="M150,462 L215,448 M148,482 L230,465 M155,502 L232,486 M172,518 L222,508" stroke="#c48a3a" stroke-width="7" fill="none" stroke-linecap="round"/>
  <!-- girdle & sulcus -->
  <path d="M68,362 C85,350 100,362 112,352 C126,345 138,360 152,352 C166,348 176,364 186,372 C196,380 204,392 212,398 C225,408 240,418 250,432 C262,446 270,458 280,470 C288,482 292,492 296,500" fill="none" stroke="#8a5522" stroke-width="12" stroke-linecap="round" stroke-dasharray="9 7"/>
  <path d="M245,280 C250,310 245,340 230,365 C222,385 205,400 190,420" fill="none" stroke="#6a4018" stroke-width="6"/>
  <path d="M190,420 C186,428 184,432 186,438" fill="none" stroke="#5c4d12" stroke-width="5"/>
</g>

<!-- ===== Chlorarachniophyta ===== -->
<g transform="translate(680,135) scale(0.2351)">
  <path d="M290,205 C296,170 292,140 298,108 C285,85 272,62 262,40 C278,58 292,76 306,96 C326,76 348,54 370,35 C352,62 332,88 318,112 C312,142 318,175 322,200
           C365,195 415,178 460,155 C420,185 378,208 338,222
           C352,248 350,285 345,308 C372,312 392,318 405,330 C432,345 465,362 495,370 C460,372 428,362 398,350 C380,342 360,338 342,340
           C335,362 318,382 298,392 C322,412 345,435 365,455 C338,440 310,420 285,402
           C268,415 245,422 222,424 C220,450 218,470 214,490 C235,508 252,525 270,540 C248,530 228,516 210,503 C193,516 176,530 160,540 C172,522 186,506 200,490 C198,468 196,445 196,422
           C165,418 138,400 120,375 C80,385 40,395 0,402 C38,388 72,370 105,352
           C95,325 95,298 100,275 C78,270 55,260 35,250 C58,252 80,255 105,255
           C108,240 112,228 118,218 C95,205 75,172 55,140 C82,165 105,188 132,200
           C150,182 180,190 212,196 C205,168 196,138 190,110 C205,135 218,165 232,192 C252,192 272,198 290,205Z"
        fill="#f6d670" stroke="#665612" stroke-width="7.5" stroke-linejoin="round"/>
  <path d="M112,203 C80,210 50,217 18,224 C50,226 82,228 112,232Z" fill="#f6d670" stroke="#665612" stroke-width="5" stroke-linejoin="round"/>
  <g fill="#3f8b3c">
    <path d="M150,255 C155,232 180,222 200,226 C218,230 222,245 210,252 C198,258 196,268 206,274 C214,282 206,294 194,292 C186,305 160,306 150,292 C142,280 145,266 150,255Z"/>
    <path d="M258,218 C282,205 310,215 318,240 C324,262 318,285 302,300 C290,310 272,304 274,290 C276,278 264,272 254,280 C242,286 232,276 236,264 C240,254 254,250 258,240 C262,232 254,226 258,218Z"/>
    <path d="M128,298 C145,292 158,302 154,318 C152,330 164,336 176,328 C188,318 204,326 204,342 C204,356 192,362 190,374 C186,392 160,398 142,388 C120,376 110,350 114,326 C116,312 118,302 128,298Z"/>
    <path d="M222,338 C232,330 246,334 250,346 C254,356 266,354 272,344 C280,330 300,334 302,352 C304,375 284,392 262,396 C240,400 218,390 214,374 C212,364 224,360 232,362 C242,362 240,352 230,350 C222,348 218,342 222,338Z"/>
  </g>
</g>

<!-- ===== Euglenophyceae ===== -->
<g transform="translate(715,290) scale(0.1979)">
  <path d="M665,185 C700,188 725,180 745,165 C775,140 798,112 792,88 C786,68 758,68 748,92 C738,120 752,160 782,190 C812,220 858,240 878,275 C895,310 870,335 835,336 C800,337 772,318 778,288" fill="none" stroke="#4f4416" stroke-width="13" stroke-linecap="round"/>
  <path d="M35,275 C60,258 92,245 120,225 C155,195 185,158 220,130 C255,105 292,88 330,80 C370,70 410,66 450,68 C488,72 525,82 560,95 C592,108 625,118 650,135 C665,148 672,165 668,182 C664,200 655,215 640,225 C615,235 588,237 560,235 C525,232 492,220 460,220 C428,222 398,235 370,250 C345,265 325,282 300,290 C262,300 220,302 180,300 C145,300 110,300 80,295 C60,292 42,285 35,275Z" fill="#f0cb5c" stroke="#5c4d12" stroke-width="9" stroke-linejoin="round"/>
  <g fill="none" stroke="#dfa23e" stroke-width="4">
    <circle cx="375" cy="98" r="9"/><circle cx="415" cy="160" r="11"/><circle cx="490" cy="148" r="8"/><circle cx="262" cy="235" r="11"/><circle cx="555" cy="185" r="12"/><circle cx="580" cy="215" r="8"/><circle cx="270" cy="200" r="7"/><circle cx="135" cy="285" r="6"/><circle cx="355" cy="222" r="7"/><circle cx="510" cy="118" r="6"/><circle cx="150" cy="230" r="8"/><circle cx="178" cy="215" r="6"/><circle cx="250" cy="290" r="7"/><circle cx="350" cy="262" r="7"/><circle cx="455" cy="150" r="9"/><circle cx="395" cy="130" r="6"/><circle cx="470" cy="82" r="6"/><circle cx="585" cy="160" r="9"/><circle cx="620" cy="215" r="7"/><circle cx="440" cy="230" r="6"/><circle cx="530" cy="225" r="7"/><circle cx="235" cy="150" r="7"/><circle cx="60" cy="278" r="5"/><circle cx="165" cy="290" r="5"/>
  </g>
  <g fill="#4e9b3c" stroke="#3d7f2e" stroke-width="3">
    <ellipse cx="440" cy="108" rx="45" ry="28" transform="rotate(12 440 108)"/>
    <ellipse cx="537" cy="122" rx="36" ry="22" transform="rotate(25 537 122)"/>
    <ellipse cx="503" cy="192" rx="42" ry="25" transform="rotate(15 503 192)"/>
    <ellipse cx="405" cy="205" rx="42" ry="20" transform="rotate(-18 405 205)"/>
    <ellipse cx="305" cy="248" rx="40" ry="26" transform="rotate(-15 305 248)"/>
    <ellipse cx="198" cy="260" rx="55" ry="30" transform="rotate(-5 198 260)"/>
    <ellipse cx="225" cy="190" rx="38" ry="22" transform="rotate(-45 225 190)"/>
    <ellipse cx="105" cy="272" rx="28" ry="14" transform="rotate(-8 105 272)"/>
  </g>
  <g stroke="#b08a40" stroke-width="3" fill="none" opacity="0.8">
    <path d="M400,118 L480,100 M500,120 L570,128 M465,200 L540,185 M370,215 L440,195 M270,258 L340,238 M148,268 L250,250 M205,210 L245,170"/>
  </g>
  <circle cx="325" cy="155" r="56" fill="#dbab55" stroke="#5c4d12" stroke-width="6"/>
  <path d="M290,135 L335,120 M285,160 L360,140 M298,185 L365,165 M325,110 L330,200" stroke="#c4903c" stroke-width="7" fill="none" stroke-linecap="round" opacity="0.8"/>
  <ellipse cx="598" cy="132" rx="17" ry="7" fill="#5c4d12" transform="rotate(15 598 132)"/>
  <path d="M590,172 L650,178 M592,190 L640,192" stroke="#5c4d12" stroke-width="8" fill="none" stroke-linecap="round"/>
  <ellipse cx="610" cy="160" rx="35" ry="8" fill="#e09a3a" opacity="0.8"/>
</g>

<!-- ===== other eukaryotes: orangutan + mushroom ===== -->
<g transform="translate(750,395) scale(0.2353)">
  <!-- raised arm -->
  <path d="M285,205 C320,195 360,188 395,180 C412,176 420,165 418,150 C410,120 392,95 372,72 L398,52 C425,85 450,120 468,160 C478,185 475,205 462,218 C452,228 448,240 440,232 C432,238 425,232 415,236 C385,246 352,262 318,272 C300,270 285,240 285,205Z" fill="#91421a"/>
  <path d="M372,72 C360,74 345,70 330,76 C318,70 315,55 325,45 C338,34 358,32 372,38 C382,44 392,48 398,52 C392,62 382,68 372,72Z" fill="#c9a172"/>
  <!-- far (image-left) arm -->
  <path d="M172,228 C140,240 105,265 75,295 C50,320 30,345 22,372 C18,388 25,400 32,395 C38,402 48,392 52,385 C60,392 70,380 78,372 C95,362 115,352 135,348 C150,352 165,340 175,320 C185,290 185,255 172,228Z" fill="#91421a"/>
  <path d="M75,325 C95,318 120,315 145,318 C135,325 110,328 82,332Z" fill="#e8c9a0"/>
  <!-- body -->
  <path d="M170,232 C200,222 260,215 300,225 C322,245 332,290 330,335 C328,375 322,410 318,440 C290,462 240,470 200,462 C170,452 150,430 142,400 C135,365 140,320 150,280 C155,260 162,245 170,232Z" fill="#91421a"/>
  <!-- legs -->
  <path d="M150,395 C140,425 150,460 172,490 C180,502 188,512 192,520 L250,492 C245,475 238,455 232,438 C250,450 275,462 300,460 C330,455 352,430 372,405 C385,390 395,378 402,372 C415,395 430,425 448,452 C456,462 465,470 472,472 L500,440 C488,420 475,395 462,370 C452,350 440,338 425,335 C405,332 385,345 365,362 C345,378 330,392 318,400 C280,380 200,370 150,395Z" fill="#91421a"/>
  <path d="M232,438 C250,450 275,462 300,460 C290,470 270,478 250,492 C245,475 238,455 232,438Z" fill="#7a3010"/>
  <!-- feet -->
  <path d="M192,520 C175,528 158,535 150,545 C152,555 170,555 190,548 C210,540 235,530 255,520 C268,512 272,498 262,490 L250,492Z" fill="#c9a172"/>
  <path d="M472,472 C480,480 500,482 520,478 C528,474 525,465 515,462 C520,445 530,425 545,405 C548,395 538,390 528,398 C515,410 505,425 500,440Z" fill="#c9a172"/>
  <!-- head -->
  <path d="M215,125 C245,118 275,135 288,165 C296,190 292,220 278,245 C262,268 235,275 210,268 C185,258 168,235 164,205 C160,170 180,135 215,125Z" fill="#91421a"/>
  <path d="M205,150 C225,142 250,146 262,162 C270,180 266,205 258,228 C250,250 238,265 225,265 C210,262 202,245 198,225 C192,200 190,170 205,150Z" fill="#c9a172"/>
  <ellipse cx="230" cy="186" rx="30" ry="9" fill="#8e7560" opacity="0.75"/>
  <ellipse cx="230" cy="215" rx="24" ry="16" fill="#d4ad80"/>
  <path d="M185,140 L178,122 L198,132 L205,115 L222,126 L240,114 L250,130 L268,128 L272,146Z" fill="#91421a"/>
  <!-- chest -->
  <path d="M195,262 C185,280 172,292 165,305 C190,318 215,318 238,312 C262,320 290,315 312,300 C305,285 290,272 275,262 C255,278 215,278 195,262Z" fill="#c9a172"/>
  <path d="M195,330 C210,322 232,326 240,342 C246,358 238,375 225,385 C228,370 224,358 212,352 C200,348 192,340 195,330Z" fill="#c9a172"/>
  <!-- fur tufts -->
  <path d="M440,232 L446,250 L452,228 M415,236 L410,250 L405,240 M318,272 L325,285 L335,268 M22,372 L15,392 L30,385 M52,385 L50,400 L62,388" fill="#91421a"/>
  <path d="M172,490 L160,498 L175,500 M150,440 L138,450 L152,455" fill="#91421a"/>
</g>

<g transform="translate(865,380) scale(0.1742)">
  <g fill="none" stroke="#a9b06e" stroke-width="6" stroke-linecap="round">
    <path d="M190,478 C160,485 120,482 85,500 M150,484 C140,495 135,505 130,515 M200,482 C195,495 192,505 190,515 M222,485 C222,498 225,508 228,518 M245,484 C252,495 262,505 275,512 M268,478 C300,490 340,485 400,492 M330,488 C345,480 360,478 375,480 M300,488 C305,500 312,510 322,520"/>
  </g>
  <!-- gills underside -->
  <path d="M75,232 C105,175 170,128 240,118 C300,112 345,135 370,185 C368,205 340,232 300,250 C255,270 190,285 140,278 C100,272 78,255 75,232Z" fill="#dfa84c" stroke="#8a5a20" stroke-width="6"/>
  <g stroke="#c78a34" stroke-width="4" fill="none">
    <path d="M222,200 L100,245 M222,200 L130,265 M222,200 L175,275 M222,200 L120,215 M222,200 L160,180 M222,200 L280,255 M222,200 L320,235 M222,200 L350,205 M222,200 L345,170 M222,200 L300,150 M222,200 L250,145 M222,200 L200,160 M222,200 L235,272"/>
  </g>
  <!-- cap -->
  <path d="M75,232 C62,200 72,160 100,130 C112,128 122,135 128,125 C125,112 135,98 150,92 C195,62 255,55 300,85 C340,105 368,145 370,185 C345,135 300,112 240,118 C170,128 105,175 75,232Z" fill="#d5853b" stroke="#8a5a20" stroke-width="6" stroke-linejoin="round"/>
  <!-- stem -->
  <path d="M188,215 C195,205 205,210 212,200 C222,205 232,198 240,205 C250,200 256,210 262,216 C258,245 255,270 256,292 C262,330 290,365 302,405 C310,440 290,470 268,480 C245,488 215,488 192,480 C168,470 150,440 158,405 C168,365 195,330 200,292 C202,268 195,240 188,215Z" fill="#f5d67c" stroke="#9a7a28" stroke-width="6" stroke-linejoin="round"/>
</g>

<!-- ===== Chloroplastida: fern + green alga ===== -->
<g transform="translate(50,240) scale(0.183)">
  <path d="M110,65 C93,57 76,70 72,86 C87,92 108,84 110,65Z M140,85 C115,75 88,95 82,118 C105,125 136,112 140,85Z M170,105 C137,94 100,122 92,152 C123,159 164,140 170,105Z M205,135 C165,121 121,155 112,192 C149,200 199,177 205,135Z M250,172 C205,152 155,186 142,228 C183,242 241,220 250,172Z M292,222 C241,196 172,232 148,278 C196,296 271,276 292,222Z M326,290 C270,263 192,300 163,348 C216,367 300,346 326,290Z M346,356 C296,335 232,373 213,418 C260,432 330,408 346,356Z M118,55 C132,63 148,53 152,40 C139,35 121,40 118,55Z M150,70 C167,79 187,66 192,50 C176,44 154,51 150,70Z M185,90 C207,106 240,93 252,72 C231,60 196,65 185,90Z M225,116 C249,142 292,133 312,110 C289,90 245,87 225,116Z M275,160 C303,194 356,185 382,156 C354,129 300,124 275,160Z M320,215 C356,253 421,240 452,205 C417,175 350,172 320,215Z M350,286 C386,332 463,326 502,292 C465,255 390,243 350,286Z M360,356 C378,405 441,417 482,396 C462,355 403,327 360,356Z " fill="#559d42" stroke="#7dbd5e" stroke-width="3"/>
  <path d="M110,65 L78,83 M140,85 L91,113 M170,105 L104,145 M205,135 L126,183 M250,172 L158,220 M292,222 L170,270 M326,290 L187,339 M346,356 L233,409 M118,55 L147,42 M150,70 L186,53 M185,90 L242,75 M225,116 L299,111 M275,160 L366,157 M320,215 L432,206 M350,286 L479,291 M360,356 L464,390 " fill="none" stroke="#3f7f2c" stroke-width="3.5"/>
  <path d="M55,42 C110,62 160,85 205,118 C250,152 290,195 318,245 C340,290 348,340 352,390 C356,435 358,480 358,525" fill="none" stroke="#3a6d2a" stroke-width="13" stroke-linecap="round"/>
  <path d="M55,42 C110,62 160,85 205,118" fill="none" stroke="#4d9238" stroke-width="5" stroke-linecap="round"/>
</g>

<g transform="translate(140,270) scale(0.1393)">
  <g fill="none" stroke="#4f4416" stroke-width="14" stroke-linecap="round">
    <path d="M548,402 C575,415 598,395 605,345 C610,290 590,245 555,212 C520,180 480,155 440,135 C395,115 345,100 302,84"/>
    <path d="M525,448 C528,490 505,525 460,545 C415,560 360,548 312,525 C262,498 215,460 180,420 C158,392 142,362 130,335"/>
  </g>
  <path d="M85,85 C105,75 128,74 150,78 C200,95 250,115 300,135 C352,155 402,176 450,200 C488,220 522,242 540,270 C556,298 560,325 555,350 C552,380 542,408 530,430 C515,458 495,478 470,490 C442,505 410,512 380,510 C345,500 315,488 290,470 C255,445 225,412 200,380 C172,342 148,300 130,260 C112,225 100,190 95,160 C88,130 82,105 85,85Z" fill="#f7d468" stroke="#665612" stroke-width="10" stroke-linejoin="round"/>
  <!-- chloroplast cup -->
  <path d="M150,150 C165,128 205,130 250,150 C310,175 380,200 440,230 C490,255 530,285 540,320 C545,350 530,375 505,380 C490,382 475,378 468,370 C472,395 468,420 455,445 C435,472 395,480 355,470 C315,455 280,425 250,395 C215,360 185,320 165,280 C148,250 138,220 138,200 C140,190 150,188 158,192 C150,178 146,162 150,150Z" fill="#3eb155" stroke="#2b8f42" stroke-width="6"/>
  <path d="M232,262 C255,270 290,285 320,300 C335,308 345,315 350,325 L335,355 C315,345 285,330 258,318 C240,310 228,300 222,292Z" fill="#f7d468" stroke="#e2b640" stroke-width="4"/>
  <ellipse cx="208" cy="250" rx="22" ry="34" fill="#1a9a48" transform="rotate(-25 208 250)"/>
  <path d="M175,205 C185,230 190,250 200,275" stroke="#f7d468" stroke-width="7" fill="none"/>
  <ellipse cx="402" cy="356" rx="66" ry="50" fill="#91ba92" stroke="#3c8a4a" stroke-width="5"/>
</g>

<!-- ===== Glaucophyta ===== -->
<g transform="translate(100,375) scale(0.125)">
  <g fill="none" stroke="#4f4416" stroke-width="17" stroke-linecap="round">
    <path d="M655,165 C640,120 610,90 560,72 C500,52 430,50 360,58 C290,66 225,92 175,135 C125,180 90,240 70,300 C60,330 52,355 48,375"/>
    <path d="M742,212 C770,190 800,175 832,170 C868,168 895,190 895,225 C892,262 862,295 838,328 C815,360 805,395 825,435"/>
  </g>
  <path d="M270,110 C330,102 390,102 450,105 C510,108 568,112 620,125 C660,138 695,160 722,182 C748,200 772,218 775,238 C770,265 745,290 720,310 C672,345 618,375 560,400 C508,420 455,436 400,445 C350,455 298,460 250,455 C215,440 188,418 170,390 C158,355 158,318 165,280 C172,240 185,202 200,170 C215,140 240,118 270,110Z" fill="#f7d468" stroke="#665612" stroke-width="10" stroke-linejoin="round"/>
  <g fill="#f9e08a" stroke="#e0a03c" stroke-width="8">
    <ellipse cx="428" cy="152" rx="48" ry="28"/>
    <ellipse cx="222" cy="362" rx="28" ry="42" transform="rotate(8 222 362)"/>
    <ellipse cx="535" cy="362" rx="45" ry="25" transform="rotate(-8 535 362)"/>
    <ellipse cx="672" cy="282" rx="20" ry="28" transform="rotate(10 672 282)"/>
  </g>
  <circle cx="278" cy="210" r="66" fill="#dcae52" stroke="#5c4d12" stroke-width="9"/>
  <ellipse cx="272" cy="212" rx="32" ry="38" fill="#d2873a"/>
  <!-- cyanelles -->
  <path d="M362,225 C400,200 455,205 482,245 C500,275 498,310 478,335 C465,350 448,358 438,372 C420,410 380,435 335,428 C295,420 268,385 270,345 C272,310 295,285 325,272 C340,262 345,240 362,225Z" fill="#82d2b4" stroke="#1f9a62" stroke-width="10"/>
  <path d="M388,282 C408,268 432,275 438,298 C442,318 428,332 415,342 C408,360 400,380 378,388 C355,392 335,375 335,352 C336,330 355,318 368,308 C375,298 378,288 388,282Z" fill="#128a50"/>
  <circle cx="573" cy="245" r="68" fill="#82d2b4" stroke="#1f9a62" stroke-width="10"/>
  <ellipse cx="574" cy="250" rx="30" ry="34" fill="#128a50"/>
  <rect x="665" y="165" width="50" height="26" rx="10" fill="#e8c070" stroke="#8a6a20" stroke-width="5" transform="rotate(35 690 178)"/>
  <ellipse cx="730" cy="210" rx="18" ry="14" fill="#c89a50" stroke="#6a5018" stroke-width="5"/>
</g>

</svg>
</body>
</html>
